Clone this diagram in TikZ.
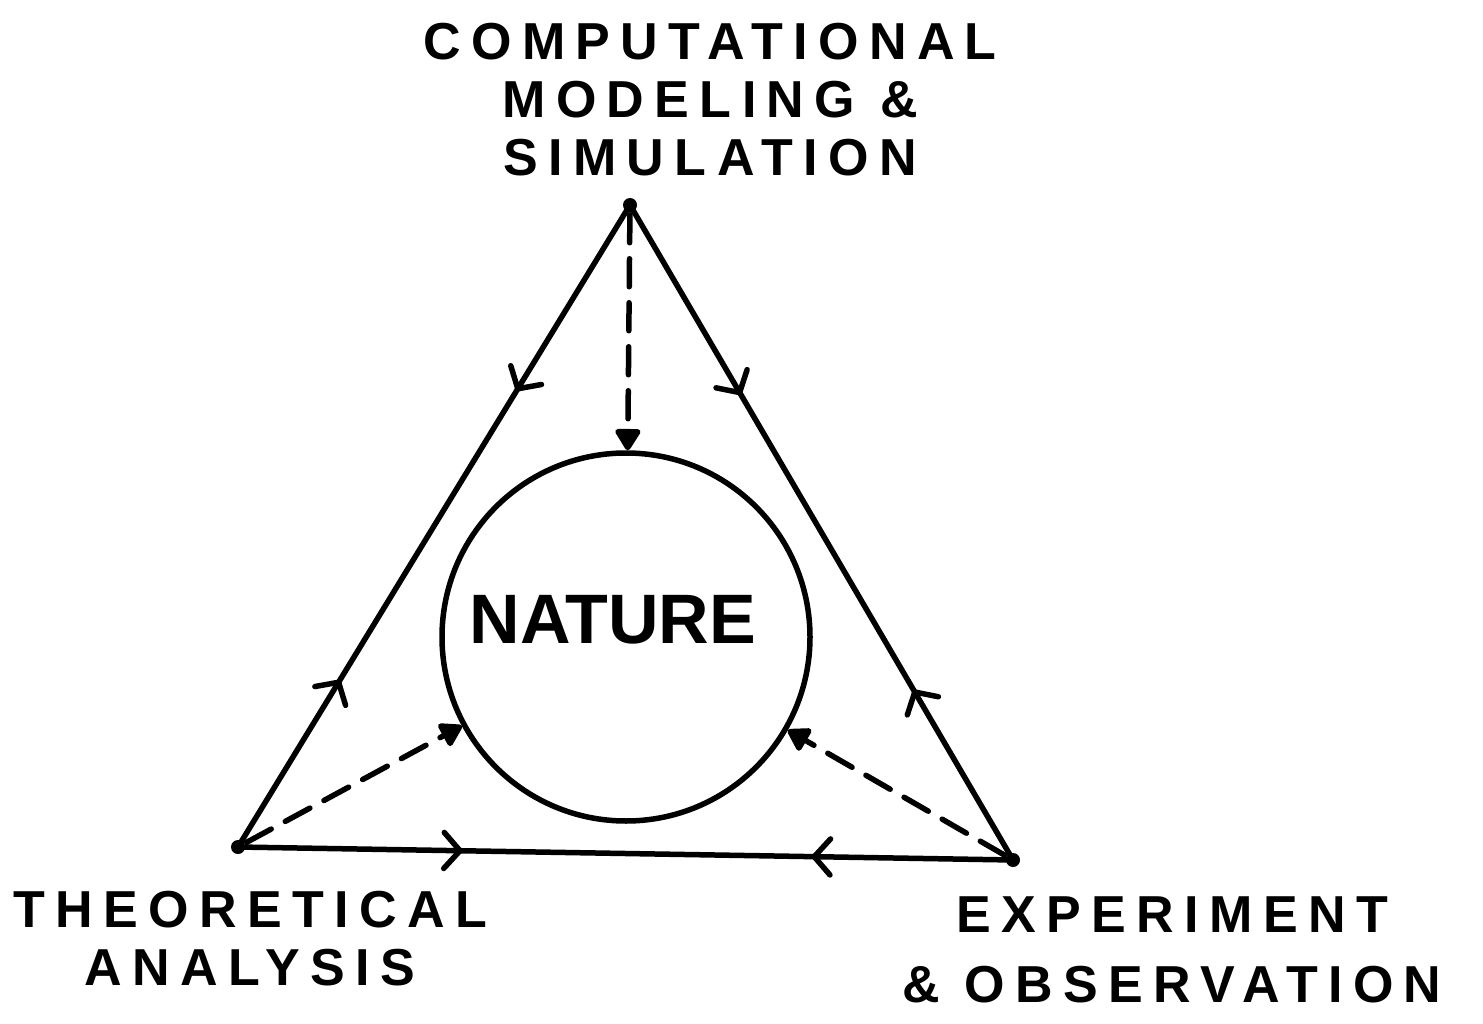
\documentclass[tikz,border=0pt]{standalone}
\usepackage{fontspec}
\newfontfamily\handfont[LetterSpace=20]{Liberation Sans Bold}
\usetikzlibrary{arrows.meta,decorations.markings}
\begin{document}
\begin{tikzpicture}[x=1pt, y=-1pt,
    line width=5.5pt, line cap=round, line join=round,
    twoway/.style={postaction={decorate}, decoration={markings,
        mark=at position 0.29 with {\arrow{Straight Barb[length=16pt,width=36pt,round]}},
        mark=at position 0.74 with {\arrowreversed{Straight Barb[length=16pt,width=36pt,round]}}}},
    probe/.style={dash pattern=on 28pt off 16pt, -{Triangle[length=24pt,width=28pt,round]}},
    vertex/.style={circle, fill, inner sep=0pt, minimum size=14pt},
    lettering/.style={font=\handfont\fontsize{52}{58}\selectfont, align=center}]
  \useasboundingbox (0,0) rectangle (1483,1024);

  % corners of the triangle
  \node[vertex] (comp) at (630,205) {};
  \node[vertex] (theo) at (238,847) {};
  \node[vertex] (expt) at (1013,860) {};

  % nature in the middle
  \node[circle, draw, minimum size=368pt, inner sep=0pt,
        label={[xshift=-13pt, yshift=17pt, font=\fontspec{Liberation Sans Bold}\fontsize{70}{70}\selectfont]center:NATURE}]
        (nature) at (626,637) {};

  % edges, one arrow each way
  \draw[twoway] (comp.center) -- (theo.center);
  \draw[twoway] (comp.center) -- (expt.center);
  \draw[twoway] (theo.center) -- (expt.center);

  % dashed links to nature
  \draw[probe] (comp) -- (nature);
  \draw[probe] (theo) -- (nature);
  \draw[probe] (expt) -- (nature);

  % labels
  \node[lettering] (complabel) at (710,100) {COMPUTATIONAL\\MODELING \&\\SIMULATION};
  \node[lettering] (theolabel) at (250,939) {THEORETICAL\\ANALYSIS};
  \node[lettering] (exptlabel) at (1172,950) {EXPERIMENT\\[12pt]\& OBSERVATION};
\end{tikzpicture}
\end{document}
